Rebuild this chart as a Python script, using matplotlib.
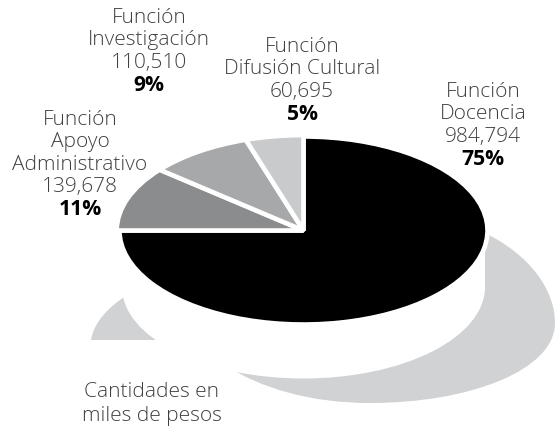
import matplotlib
matplotlib.use("Agg")
import matplotlib.pyplot as plt
from matplotlib.path import Path
from matplotlib.patches import PathPatch, Ellipse, Rectangle

W, H = 555, 430

# datos
funciones = ["Función\nDocencia", "Función\nApoyo\nAdministrativo",
             "Función\nInvestigación", "Función\nDifusión Cultural"]
cantidades = ["984,794", "139,678", "110,510", "60,695"]
porcentajes = [75, 11, 9, 5]
colores = ["#000000", "#8b8c8e", "#a7a8aa", "#c9cacc"]

# centro de cada bloque de texto (x) y primera linea (y), en pixeles
pos_x = [483, 80, 149, 302]
pos_y = [92, 120, 18, 47]
nota = "Cantidades en\nmiles de pesos"

plt.rcParams["font.family"] = ["Open Sans", "DejaVu Sans"]
color_texto = "#404040"
fs = 15
paso = 22.4

fig = plt.figure(figsize=(W / 100, H / 100), dpi=100)
ax = fig.add_axes([0, 0, 1, 1])
ax.set_xlim(0, W)
ax.set_ylim(H, 0)
ax.axis("off")

# sombra
gris_sombra = "#d1d2d4"
sombra = Path(
    [(485, 233), (530, 255), (555, 290), (555, 323),
     (555, 370), (470, 403), (370, 403),
     (310, 403), (260, 388), (225, 365),
     (300, 300), (485, 233)],
    [Path.MOVETO] + [Path.CURVE4] * 9 + [Path.LINETO, Path.CLOSEPOLY],
)
ax.add_patch(PathPatch(sombra, fc=gris_sombra, ec="none", zorder=1))
cola = Path(
    [(91, 340), (94, 322), (108, 308), (124, 297), (170, 340), (91, 340)],
    [Path.MOVETO, Path.CURVE4, Path.CURVE4, Path.CURVE4, Path.LINETO, Path.CLOSEPOLY],
)
ax.add_patch(PathPatch(cola, fc=gris_sombra, ec="none", zorder=1))

# grosor blanco del pastel
ax.add_patch(Rectangle((122, 232), 363, 55, fc="white", ec="none", zorder=2))
ax.add_patch(Ellipse((303.5, 287), 363, 183, fc="white", ec="none", zorder=2))

# pastel en sus propios ejes, aplastado
rx, ry = 184, 94
cx, cy = 303.5, 230.5
ax2 = fig.add_axes([(cx - rx) / W, (H - cy - ry) / H, 2 * rx / W, 2 * ry / H])
cunas, _ = ax2.pie(porcentajes, colors=colores, startangle=90, counterclock=False,
                   radius=1.0, wedgeprops={"edgecolor": "white", "linewidth": 3.3,
                                           "joinstyle": "bevel"})
for c in cunas[1:]:
    c.set_radius(1.015)
ax2.set_aspect("auto")
ax2.set_xlim(-1, 1)
ax2.set_ylim(-1, 1)
ax2.patch.set_alpha(0)

# textos
for i, f in enumerate(funciones):
    lineas = f.split("\n") + [cantidades[i]]
    y = pos_y[i]
    for l in lineas:
        ax.text(pos_x[i], y, l, ha="center", va="center", fontsize=fs,
                color=color_texto, fontweight="light")
        y += paso
    ax.text(pos_x[i], y, f"{porcentajes[i]}%", ha="center", va="center",
            fontsize=15.2, color="black", fontweight="bold")

y = 392
for l in nota.split("\n"):
    ax.text(152, y, l, ha="center", va="center", fontsize=fs,
            color=color_texto, fontweight="light")
    y += 23.5

fig.savefig("out.png", dpi=100)
